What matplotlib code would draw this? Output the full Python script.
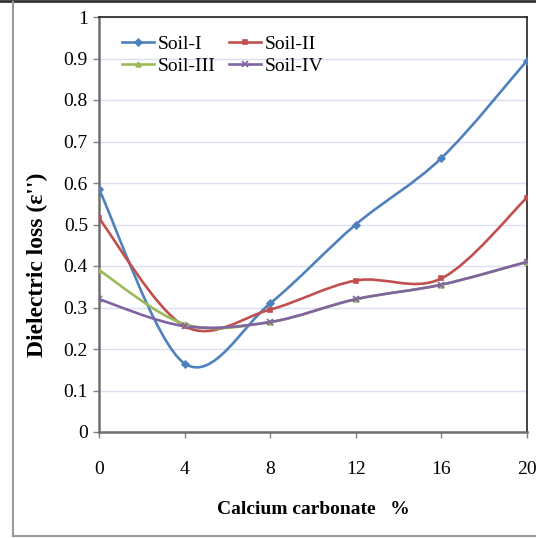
import matplotlib
matplotlib.use("Agg")
import matplotlib.pyplot as plt
from matplotlib.path import Path
from matplotlib.patches import PathPatch
from matplotlib.lines import Line2D
import numpy as np

x_vals = [0, 4, 8, 12, 16, 20]
x_labels = ["0", "4", "8", "12", "16", "20"]
soil_1 = [0.585, 0.165, 0.31, 0.50, 0.66, 0.895]
soil_2 = [0.515, 0.255, 0.295, 0.365, 0.37, 0.565]
soil_3 = [0.39, 0.26, 0.265, 0.32, 0.355, 0.41]
soil_4 = [0.32, 0.255, 0.265, 0.32, 0.355, 0.41]
names = ["Soil-I", "Soil-II", "Soil-III", "Soil-IV"]
colors = ["#4F81BD", "#C0504D", "#9BBB59", "#8064A2"]
markers = ["D", "s", "^", "x"]

plt.rcParams['font.family'] = ['Liberation Serif', 'DejaVu Serif']

W, H = 536, 538
fig = plt.figure(figsize=(W / 100, H / 100), dpi=100)
ax = fig.add_axes([99 / W, 1 - 432 / H, (527 - 99) / W, (432 - 17) / H])


def smooth_path(xs, ys):
    pts = np.column_stack([xs, ys]).astype(float)
    n = len(pts)
    verts = [pts[0]]
    codes = [Path.MOVETO]
    for i in range(n - 1):
        p0 = pts[i - 1] if i > 0 else pts[i]
        p1 = pts[i]
        p2 = pts[i + 1]
        p3 = pts[i + 2] if i + 2 < n else pts[i + 1]
        c1 = p1 + (p2 - p0) / 6.0
        c2 = p2 - (p3 - p1) / 6.0
        verts += [c1, c2, p2]
        codes += [Path.CURVE4] * 3
    return Path(verts, codes)


series = [soil_1, soil_2, soil_3, soil_4]
for ys, c, m, nm in zip(series, colors, markers, names):
    patch = PathPatch(smooth_path(x_vals, ys), facecolor='none', edgecolor=c,
                      lw=1.9, zorder=3, capstyle='round', joinstyle='round')
    ax.add_patch(patch)
    ms = 3.5 if m != 'x' else 5
    ax.plot(x_vals, ys, linestyle='none', marker=m, color=c, ms=ms, mew=1.2,
            zorder=4)

handles = [Line2D([0], [0], color=c, lw=1.9, marker=m, ms=3.5 if m != 'x' else 5,
                  mew=1.2) for c, m in zip(colors, markers)]
order = [0, 2, 1, 3]
leg = ax.legend([handles[i] for i in order], [names[i] for i in order], ncol=2,
                loc='upper left', bbox_to_anchor=(0.054, 0.955), frameon=False,
                fontsize=14, handlelength=1.65, handletextpad=0.2,
                columnspacing=0.65, labelspacing=0.2, borderaxespad=0,
                borderpad=0)

ax.set_xlim(0, 20)
ax.set_ylim(0, 1)
ax.set_xticks(x_vals)
ax.set_xticklabels(x_labels)
ax.set_yticks(np.arange(0, 1.01, 0.1))
ax.set_yticklabels(["0"] + ["%.1f" % v for v in np.arange(0.1, 0.95, 0.1)] + ["1"])
ax.tick_params(axis='both', labelsize=14, direction='out', length=4,
               width=1, color='#808080')
ax.tick_params(axis='x', pad=17)
ax.tick_params(axis='y', pad=4)
ax.grid(axis='y', color='#DCDFF2', lw=1)
ax.set_axisbelow(True)
for s in ['top', 'right']:
    ax.spines[s].set_color('#222222')
    ax.spines[s].set_linewidth(1.2)
for s in ['left', 'bottom']:
    ax.spines[s].set_color('#6e6e6e')
    ax.spines[s].set_linewidth(1.8)

fig.text(313 / W, 1 - 510 / H, "Calcium carbonate   %", fontsize=14,
         fontweight='bold', ha='center', va='center')
fig.text(37 / W, 1 - 265 / H, "Dielectric loss (\u03b5'')", fontsize=17,
         fontweight='bold', ha='center', va='center', rotation=90)

# outer chart border
fig.add_artist(Line2D([0, 1], [1 - 1.2 / H, 1 - 1.2 / H], transform=fig.transFigure,
                      color='#333333', lw=2))
fig.add_artist(Line2D([12.5 / W, 12.5 / W], [1 - 2 / H, 1 - 536 / H],
                      transform=fig.transFigure, color='#9a9a9a', lw=1.5))
fig.add_artist(Line2D([12.5 / W, 1], [1 - 536 / H, 1 - 536 / H],
                      transform=fig.transFigure, color='#9a9a9a', lw=1.5))

fig.savefig("out.png", dpi=100)
